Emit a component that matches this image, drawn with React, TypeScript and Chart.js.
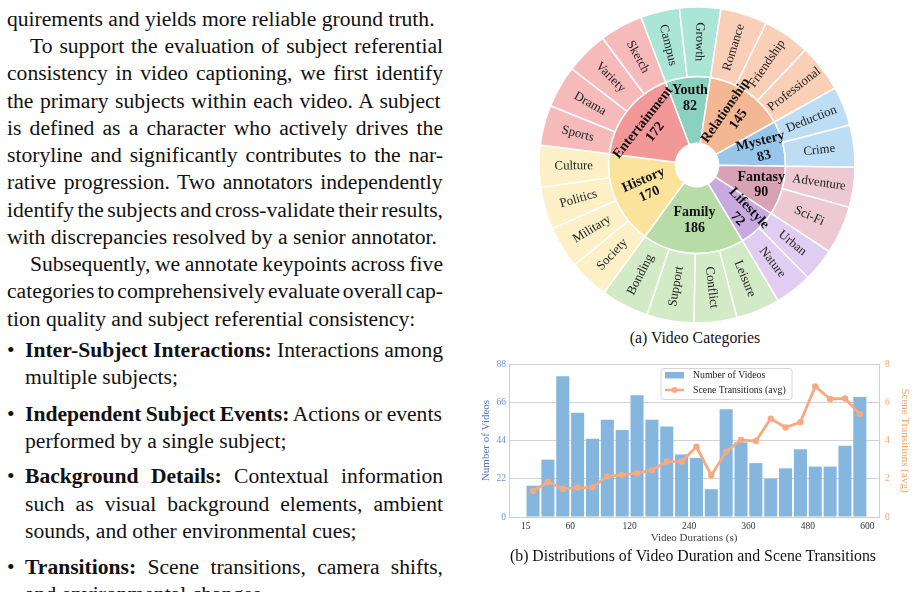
import React, { useEffect, useRef } from "react";
import { Chart, registerables } from "chart.js";

Chart.register(...registerables);

// ---------- Sunburst data ----------
const innerLabels = ["Youth", "Relationship", "Mystery", "Fantasy", "Lifestyle", "Family", "History", "Entertainment"];
const innerValues = [82, 145, 83, 90, 72, 186, 170, 172];
const outerLabels = [
  "Campus", "Growth",
  "Romance", "Friendship", "Professional",
  "Deduction", "Crime",
  "Adventure", "Sci-Fi",
  "Urban", "Nature",
  "Leisure", "Conflict", "Support", "Bonding",
  "Society", "Military", "Politics", "Culture",
  "Sports", "Drama", "Variety", "Sketch",
];
const outerValues = [40, 42, 48, 48, 49, 40, 43, 41, 49, 34, 38, 45, 44, 48, 49, 41, 43, 43, 43, 41, 43, 44, 44];
const outerParent = [0, 0, 1, 1, 1, 2, 2, 3, 3, 4, 4, 5, 5, 5, 5, 6, 6, 6, 6, 7, 7, 7, 7];

// ---------- Duration histogram data ----------
const binEdges = [15, 30, 45, 60, 75, 90, 105, 120, 150, 180, 210, 240, 270, 300, 330, 360, 390, 420, 450, 480, 510, 540, 570, 600];
const videoCounts = [18, 33, 81, 60, 45, 56, 50, 70, 56, 52, 36, 34, 16, 62, 43, 31, 22, 28, 39, 29, 29, 41, 69];
const sceneTransitions = [1.36, 1.83, 1.47, 1.54, 1.55, 2.13, 2.2, 2.29, 2.45, 2.9, 2.9, 3.67, 2.17, 3.42, 4.03, 3.97, 5.14, 4.68, 4.96, 6.83, 6.17, 6.2, 5.38];
const xTickLabels = [15, 60, 120, 240, 360, 480, 600];
const leftTicks = [0, 22, 44, 66, 88];
const rightTicks = [0, 2, 4, 6, 8];

// ---------- styles ----------
const SERIF = '"Liberation Serif", "Times New Roman", serif';
const innerColors = ["#8ad2bf", "#f4b794", "#97c6ea", "#d8a2b5", "#c8aae1", "#b8dca7", "#fbe39c", "#f39898"];
const outerColors = ["#abe5d6", "#f9d0b7", "#bdddf4", "#edc9d4", "#e0cdf1", "#d2eac5", "#fdf0c7", "#f7baba"];
const innerOrient = ["h", "r", "r", "h", "r", "h", "r", "t"];
const BAR_COLOR = "#85b7de";
const LINE_COLOR = "#f7a981";

function norm(a: number) {
  while (a > Math.PI) a -= 2 * Math.PI;
  while (a <= -Math.PI) a += 2 * Math.PI;
  return a;
}
function radialRot(mid: number) {
  let r = norm(mid);
  const lim = (85 * Math.PI) / 180;
  if (r > Math.PI / 2) r -= Math.PI;
  else if (r < -lim) r += Math.PI;
  return r;
}
function tangRot(mid: number) {
  let t = norm(mid + Math.PI / 2);
  if (t > Math.PI / 2) t -= Math.PI;
  else if (t < -Math.PI / 2) t += Math.PI;
  return t;
}

const sunburstLabels = {
  id: "sunburstLabels",
  afterDatasetsDraw(chart: any) {
    const ctx = chart.ctx as CanvasRenderingContext2D;
    ctx.save();
    ctx.textAlign = "center";
    ctx.textBaseline = "middle";
    const outerMeta = chart.getDatasetMeta(0);
    outerMeta.data.forEach((arc: any, i: number) => {
      const p = arc.getProps(["x", "y", "startAngle", "endAngle", "innerRadius", "outerRadius"], true);
      const mid = (p.startAngle + p.endAngle) / 2;
      const r = (p.innerRadius + p.outerRadius) / 2;
      ctx.save();
      ctx.translate(p.x + r * Math.cos(mid), p.y + r * Math.sin(mid));
      ctx.rotate(radialRot(mid));
      ctx.font = `12.8px ${SERIF}`;
      ctx.fillStyle = "#222";
      ctx.fillText(outerLabels[i], 0, 0);
      ctx.restore();
    });
    const innerMeta = chart.getDatasetMeta(1);
    innerMeta.data.forEach((arc: any, i: number) => {
      const p = arc.getProps(["x", "y", "startAngle", "endAngle", "innerRadius", "outerRadius"], true);
      const mid = (p.startAngle + p.endAngle) / 2;
      const span = ((p.endAngle - p.startAngle) * 180) / Math.PI;
      const mode = innerOrient[i];
      const frac = mode !== "t" && span > 55 ? 0.5 : span > 40 ? 0.59 : 0.68;
      const r = p.innerRadius + frac * (p.outerRadius - p.innerRadius);
      let rot = 0;
      if (mode === "r") rot = radialRot(mid);
      else if (mode === "t") rot = tangRot(mid);
      ctx.save();
      ctx.translate(p.x + r * Math.cos(mid), p.y + r * Math.sin(mid));
      ctx.rotate(rot);
      ctx.font = `bold 14px ${SERIF}`;
      ctx.fillStyle = "#111";
      ctx.fillText(innerLabels[i], 0, -7.5);
      ctx.fillText(String(innerValues[i]), 0, 8);
      ctx.restore();
    });
    ctx.restore();
  },
};

const insideLegend = {
  id: "insideLegend",
  afterDraw(chart: any) {
    const ctx = chart.ctx as CanvasRenderingContext2D;
    const a = chart.chartArea;
    const bx = a.left + 152;
    const by = a.top + 4.5;
    const bw = 131;
    const bh = 31;
    ctx.save();
    ctx.beginPath();
    const rr = 2.5;
    ctx.moveTo(bx + rr, by);
    ctx.lineTo(bx + bw - rr, by);
    ctx.quadraticCurveTo(bx + bw, by, bx + bw, by + rr);
    ctx.lineTo(bx + bw, by + bh - rr);
    ctx.quadraticCurveTo(bx + bw, by + bh, bx + bw - rr, by + bh);
    ctx.lineTo(bx + rr, by + bh);
    ctx.quadraticCurveTo(bx, by + bh, bx, by + bh - rr);
    ctx.lineTo(bx, by + rr);
    ctx.quadraticCurveTo(bx, by, bx + rr, by);
    ctx.closePath();
    ctx.fillStyle = "rgba(255,255,255,0.85)";
    ctx.fill();
    ctx.strokeStyle = "#d6d6d6";
    ctx.lineWidth = 1;
    ctx.stroke();
    ctx.fillStyle = BAR_COLOR;
    ctx.fillRect(bx + 4, by + 3.5, 19, 6.5);
    const ly = by + 21.5;
    ctx.strokeStyle = LINE_COLOR;
    ctx.lineWidth = 2.6;
    ctx.beginPath();
    ctx.moveTo(bx + 4, ly);
    ctx.lineTo(bx + 23, ly);
    ctx.stroke();
    ctx.fillStyle = LINE_COLOR;
    ctx.beginPath();
    ctx.arc(bx + 13.5, ly, 3, 0, Math.PI * 2);
    ctx.fill();
    ctx.font = `9.8px ${SERIF}`;
    ctx.fillStyle = "#222";
    ctx.textBaseline = "middle";
    ctx.textAlign = "left";
    ctx.fillText("Number of Videos", bx + 32, by + 7);
    ctx.fillText("Scene Transitions (avg)", bx + 32, ly);
    ctx.restore();
  },
};

type Line = { t: string; b?: string; x: number; c: number; last?: boolean; bullet?: boolean };
const textLines: Line[] = [
  { t: "quirements and yields more reliable ground truth.", x: 7, c: 21.7, last: true },
  { t: "To support the evaluation of subject referential", x: 30, c: 49.0 },
  { t: "consistency in video captioning, we first identify", x: 7, c: 76.2 },
  { t: "the primary subjects within each video. A subject", x: 7, c: 103.5 },
  { t: "is defined as a character who actively drives the", x: 7, c: 130.7 },
  { t: "storyline and significantly contributes to the nar-", x: 7, c: 158.0 },
  { t: "rative progression. Two annotators independently", x: 7, c: 185.2 },
  { t: "identify the subjects and cross-validate their results,", x: 7, c: 212.5 },
  { t: "with discrepancies resolved by a senior annotator.", x: 7, c: 239.7, last: true },
  { t: "Subsequently, we annotate keypoints across five", x: 30, c: 267.0 },
  { t: "categories to comprehensively evaluate overall cap-", x: 7, c: 294.2 },
  { t: "tion quality and subject referential consistency:", x: 7, c: 321.5, last: true },
  { b: "Inter-Subject Interactions:", t: " Interactions among", x: 25, c: 352.7, bullet: true },
  { t: "multiple subjects;", x: 25, c: 379.9, last: true },
  { b: "Independent Subject Events:", t: " Actions or events", x: 25, c: 416.7, bullet: true },
  { t: "performed by a single subject;", x: 25, c: 443.9, last: true },
  { b: "Background Details:", t: " Contextual information", x: 25, c: 479.3, bullet: true },
  { t: "such as visual background elements, ambient", x: 25, c: 506.5 },
  { t: "sounds, and other environmental cues;", x: 25, c: 533.8, last: true },
  { b: "Transitions:", t: " Scene transitions, camera shifts,", x: 25, c: 570.0, bullet: true },
  { t: "and environmental changes.", x: 25, c: 597.2, last: true },
];

const FS = 21.6;
const TEXT_RIGHT = 443;
let mctx: CanvasRenderingContext2D | null = null;
function measure(text: string, bold: boolean) {
  if (!mctx) mctx = document.createElement("canvas").getContext("2d");
  if (!mctx) return 0;
  mctx.font = `${bold ? "bold " : ""}${FS}px ${SERIF}`;
  return mctx.measureText(text).width;
}
function wordSpacingFor(ln: Line) {
  const full = (ln.b || "") + ln.t;
  const natural = measure(ln.b || "", true) + measure(ln.t, false);
  const target = TEXT_RIGHT - ln.x;
  const spaces = (full.match(/ /g) || []).length;
  if (!spaces) return 0;
  if (ln.last && natural <= target) return 0;
  return (target - natural) / spaces;
}

export default function App() {
  const pieRef = useRef<HTMLCanvasElement>(null);
  const barRef = useRef<HTMLCanvasElement>(null);

  useEffect(() => {
    const pie = new Chart(pieRef.current as HTMLCanvasElement, {
      type: "doughnut",
      data: {
        labels: outerLabels,
        datasets: [
          {
            data: outerValues,
            backgroundColor: outerParent.map((p) => outerColors[p]),
            borderColor: "#ffffff",
            borderWidth: 1.5,
            weight: 69.5,
          } as any,
          {
            data: innerValues,
            backgroundColor: innerColors,
            borderColor: "#ffffff",
            borderWidth: 1.5,
            weight: 66.8,
          } as any,
        ],
      },
      options: {
        animation: false,
        responsive: false,
        events: [],
        rotation: -20.8,
        radius: 158,
        cutout: "13.73%",
        layout: { padding: 0 },
        plugins: { legend: { display: false }, tooltip: { enabled: false } },
      } as any,
      plugins: [sunburstLabels],
    });

    const axisFont = { family: SERIF, size: 11 };
    const tickFont = { family: SERIF, size: 9.5 };
    const bar = new Chart(barRef.current as HTMLCanvasElement, {
      type: "bar",
      data: {
        datasets: [
          {
            type: "line",
            label: "Scene Transitions (avg)",
            data: sceneTransitions.map((v, i) => ({ x: i + 0.5, y: v })),
            yAxisID: "y1",
            borderColor: LINE_COLOR,
            backgroundColor: LINE_COLOR,
            borderWidth: 2.8,
            pointRadius: 3.2,
            pointBackgroundColor: LINE_COLOR,
            pointBorderWidth: 0,
            tension: 0,
            order: 0,
          } as any,
          {
            type: "bar",
            label: "Number of Videos",
            data: videoCounts.map((v, i) => ({ x: i + 0.5, y: v })),
            yAxisID: "y",
            backgroundColor: BAR_COLOR,
            barPercentage: 0.88,
            categoryPercentage: 1,
            order: 1,
          } as any,
        ],
      },
      options: {
        animation: false,
        responsive: false,
        events: [],
        layout: { padding: { top: 12, left: 0, right: 0, bottom: 0 } },
        plugins: { legend: { display: false }, tooltip: { enabled: false } },
        scales: {
          x: {
            type: "linear",
            offset: false,
            min: -1.12,
            max: 23.79,
            afterBuildTicks: (s: any) => {
              s.ticks = xTickLabels.map((v) => ({ value: binEdges.indexOf(v) }));
            },
            afterFit: (s: any) => {
              s.height = 30;
            },
            ticks: {
              callback: (_v: any, i: number) => String(xTickLabels[i]),
              font: tickFont,
              color: "#333",
              padding: 4,
              maxRotation: 0,
              autoSkip: false,
            },
            grid: { display: false, drawTicks: false, offset: false },
            border: { display: true, color: "#cfcfcf", width: 1 },
            title: { display: true, text: "Video Durations (s)", font: axisFont, color: "#444", padding: { top: 0, bottom: 2.7 } },
          },
          y: {
            position: "left",
            min: 0,
            max: 88,
            afterBuildTicks: (s: any) => {
              s.ticks = leftTicks.map((v) => ({ value: v }));
            },
            afterFit: (s: any) => {
              s.width = 39;
            },
            ticks: { font: tickFont, color: "#6c93d1", padding: 3 },
            grid: { color: "#d2d2d2", lineWidth: 1, drawTicks: false },
            border: { display: true, color: "#cfcfcf", width: 1 },
            title: { display: true, text: "Number of Videos", font: axisFont, color: "#5479b0", padding: { top: 10, bottom: 0 } },
          },
          y1: {
            position: "right",
            min: 0,
            max: 8,
            afterBuildTicks: (s: any) => {
              s.ticks = rightTicks.map((v) => ({ value: v }));
            },
            afterFit: (s: any) => {
              s.width = 38;
            },
            ticks: { font: tickFont, color: "#f3a768", padding: 6 },
            grid: { drawOnChartArea: false, drawTicks: false },
            border: { display: true, color: "#cfcfcf", width: 1 },
            title: { display: true, text: "Scene Transitions (avg)", font: axisFont, color: "#f2a465", padding: { top: 5.4, bottom: 0 } },
          },
        },
      } as any,
      plugins: [insideLegend],
    });

    return () => {
      pie.destroy();
      bar.destroy();
    };
  }, []);

  return (
    <div
      style={{
        position: "absolute",
        left: 0,
        top: 0,
        width: 917,
        height: 592,
        overflow: "hidden",
        background: "#fff",
        fontFamily: SERIF,
        color: "#111",
      }}
    >
      {textLines.map((ln, i) => (
        <React.Fragment key={i}>
          {ln.bullet && (
            <div style={{ position: "absolute", left: 7, top: ln.c - 15.9, fontSize: FS, lineHeight: "27px", whiteSpace: "nowrap" }}>•</div>
          )}
          <div
            style={{
              position: "absolute",
              left: ln.x,
              top: ln.c - 15.9,
              fontSize: FS,
              lineHeight: "27px",
              whiteSpace: "pre",
              wordSpacing: `${wordSpacingFor(ln)}px`,
            }}
          >
            {ln.b && <b>{ln.b}</b>}
            {ln.t}
          </div>
        </React.Fragment>
      ))}

      <div style={{ position: "absolute", left: 537, top: 5, width: 320, height: 320 }}>
        <canvas ref={pieRef} width={320} height={320} style={{ display: "block" }} />
      </div>
      <div style={{ position: "absolute", left: 545, top: 328.3, width: 300, textAlign: "center", fontSize: 15.8, lineHeight: "20px", whiteSpace: "nowrap" }}>
        (a) Video Categories
      </div>

      <div style={{ position: "absolute", left: 470, top: 352, width: 447, height: 195 }}>
        <canvas ref={barRef} width={447} height={195} style={{ display: "block" }} />
      </div>
      <div style={{ position: "absolute", left: 493, top: 546, width: 400, textAlign: "center", fontSize: 15.8, lineHeight: "20px", whiteSpace: "nowrap" }}>
        (b) Distributions of Video Duration and Scene Transitions
      </div>
    </div>
  );
}
